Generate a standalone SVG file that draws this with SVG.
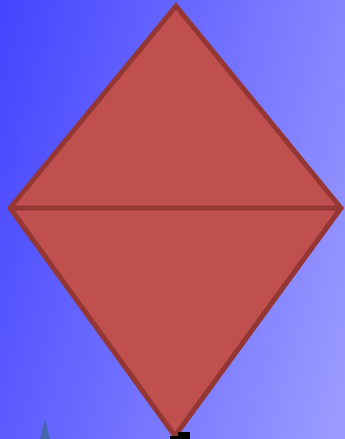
<svg xmlns="http://www.w3.org/2000/svg" width="345" height="439" viewBox="0 0 345 439">
<defs>
<linearGradient id="bg" gradientUnits="userSpaceOnUse" x1="0" y1="0" x2="499" y2="141">
<stop offset="0" stop-color="#4444ff"/>
<stop offset="1" stop-color="#aaaaff"/>
</linearGradient>
<style>
.shape{fill:#c0504d;stroke:#943634;stroke-width:5;stroke-linejoin:miter}
.line{stroke:#943634;stroke-width:5;fill:none}
</style>
</defs>
<rect x="0" y="0" width="345" height="439" fill="url(#bg)"/>
<g id="diamond">
<polygon class="shape" points="176,6 341,208 175,436 10,208"/>
</g>
<g id="connectors">
<line class="line" x1="10" y1="208" x2="341" y2="208"/>
</g>
<g id="marker-small">
<polygon points="45,419 50,439 40,439" fill="#4466aa"/>
</g>
<g id="black-shape">
<rect x="178" y="432" width="12" height="7" fill="#000"/>
<rect x="170" y="436" width="9" height="3" fill="#000"/>
</g>
</svg>
